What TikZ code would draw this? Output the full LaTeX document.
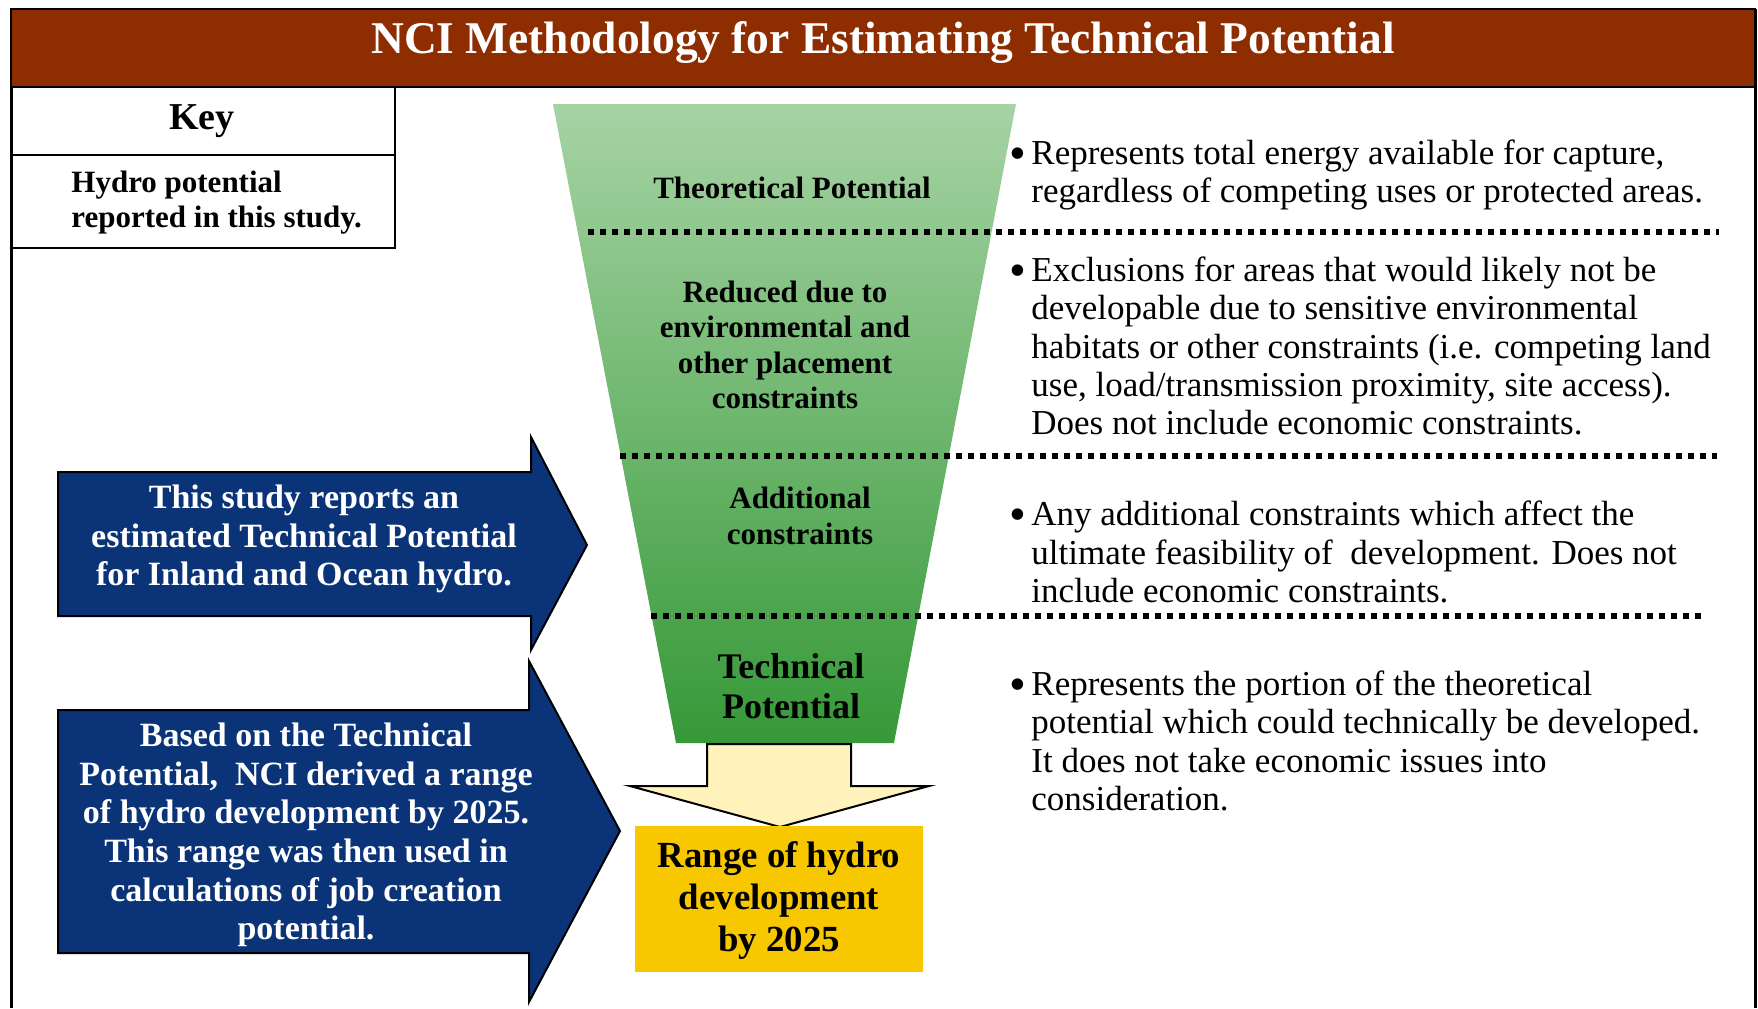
\documentclass[tikz,border=0pt]{standalone}
\usepackage{fontspec}
\setmainfont{Liberation Serif}

\definecolor{titlebrown}{RGB}{142,45,0}
\definecolor{funneltop}{RGB}{166,211,164}
\definecolor{funnelbottom}{RGB}{54,153,56}
\definecolor{arrowblue}{RGB}{11,52,120}
\definecolor{paleyellow}{RGB}{255,242,187}
\definecolor{rangegold}{RGB}{247,199,0}

\newcommand{\descbullet}{\llap{\raisebox{-2.5pt}{\fontsize{24}{19.2}\selectfont\textbullet}\hspace{2.5pt}}}

\begin{document}
\begin{tikzpicture}[x=0.5pt,y=-0.5pt,
  funneltext/.style={font=\bfseries\fontsize{15.5}{17.7}\selectfont, align=center, inner sep=0pt},
  bluetext/.style={font=\bfseries\fontsize{17}{19.3}\selectfont, text=white, align=center, inner sep=0pt},
  desctext/.style={font=\fontsize{17.5}{19.2}\selectfont, align=left, anchor=west, inner sep=0pt},
  dotline/.style={line width=3pt, dash pattern=on 3.2pt off 2.8pt}]
  \useasboundingbox (0,0) rectangle (1758,1008);

  % Frame
  \draw[line width=1.5pt] (11,9) -- (11,1008);
  \draw[line width=1.5pt] (1755,9) -- (1755,1008);

  % Title bar
  \fill[titlebrown] (11,9) rectangle (1755,87);
  \draw[line width=1.4pt] (11,9) rectangle (1755,87);
  \node[text=white, font=\bfseries\fontsize{22.7}{26}\selectfont] (title) at (883,43)
    {NCI Methodology for Estimating Technical Potential};

  % Key
  \draw[line width=1.3pt] (11,87) rectangle (395,155);
  \draw[line width=1.3pt] (11,155) rectangle (395,248);
  \node[font=\bfseries\fontsize{19}{22}\selectfont] (key) at (202,121) {Key};
  \node[anchor=west, align=left, inner sep=0pt, font=\bfseries\fontsize{15.5}{17.5}\selectfont]
    (keyitem) at (71,203) {Hydro potential\\reported in this study.};

  % Funnel
  \shade[top color=funneltop, bottom color=funnelbottom]
    (553,104) -- (1016,104) -- (894,743) -- (676,743) -- cycle;

  % Dotted lines
  \foreach \y/\xa/\xb in {232/588/1719, 456/620/1717, 616/651/1701} {
    \draw[dotline] (\xa,\y) -- (\xb,\y);
  }

  % Funnel labels
  \node[funneltext] (theoretical) at (792,188) {Theoretical Potential};
  \node[funneltext] (reduced) at (785,345) {Reduced due to\\environmental and\\other placement\\constraints};
  \node[funneltext] (additional) at (800,516) {Additional\\constraints};
  \node[funneltext, font=\bfseries\fontsize{18}{20}\selectfont] (technical) at (791,686) {Technical\\Potential};

  % Down arrow
  \filldraw[fill=paleyellow, line width=1pt]
    (707,744) -- (851,744) -- (851,786) -- (929,786) -- (780,827)
    -- (630,786) -- (707,786) -- cycle;

  % Range box
  \fill[rangegold] (635,826) rectangle (923,972);
  \node[font=\bfseries\fontsize{18.4}{21}\selectfont, align=center, inner sep=0pt]
    (range) at (779,901) {Range of hydro\\development\\by 2025};

  % Blue arrows
  \filldraw[fill=arrowblue, line width=1pt]
    (58,472) -- (531,472) -- (531,437) -- (587,545) -- (531,650)
    -- (531,616) -- (58,616) -- cycle;
  \filldraw[fill=arrowblue, line width=1pt]
    (58,710) -- (529,710) -- (529,661) -- (620,831) -- (529,1002)
    -- (529,953) -- (58,953) -- cycle;
  \node[bluetext] (reports) at (304,539)
    {This study reports an\\estimated Technical Potential\\for Inland and Ocean hydro.};
  \node[bluetext] (derived) at (306,835)
    {Based on the Technical\\Potential,\ \ NCI derived a range\\of hydro development by 2025.\\This range was then used in\\calculations of job creation\\potential.};

  % Descriptions
  \node[desctext] (desc1) at (1031,175)
    {\descbullet Represents total energy available for capture,\\regardless of competing uses or protected areas.};
  \node[desctext] (desc2) at (1031,346)
    {\descbullet Exclusions for areas that would likely not be\\developable due to sensitive environmental\\habitats or other constraints (i.e. competing land\\use, load/transmission proximity, site access).\\Does not include economic constraints.};
  \node[desctext] (desc3) at (1031,552)
    {\descbullet Any additional constraints which affect the\\ultimate feasibility of\ \ development. Does not\\include economic constraints.};
  \node[desctext] (desc4) at (1031,741)
    {\descbullet Represents the portion of the theoretical\\potential which could technically be developed.\\It does not take economic issues into\\consideration.};
\end{tikzpicture}
\end{document}
